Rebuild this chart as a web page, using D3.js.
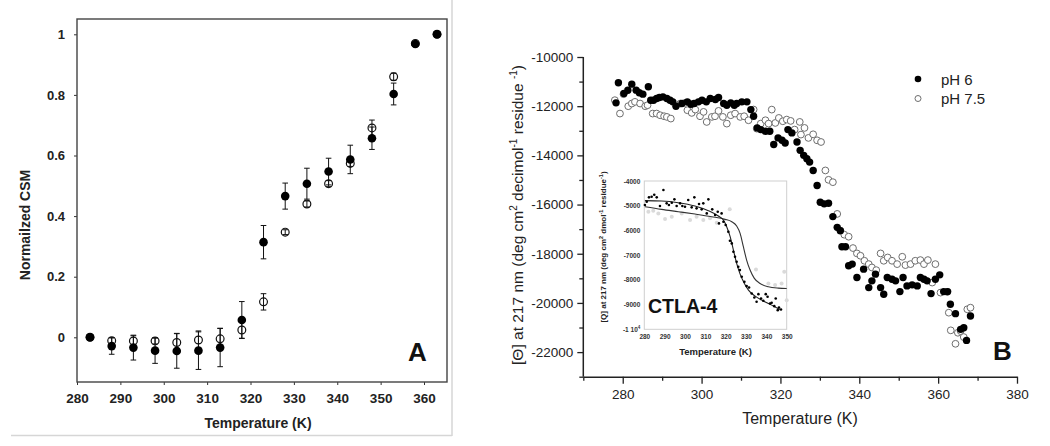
<!DOCTYPE html>
<html><head><meta charset="utf-8">
<script src="https://cdn.jsdelivr.net/npm/d3@7"></script>
<style>
body{margin:0;background:#fff}
svg{display:block}
text{font-family:"Liberation Sans",Arial,Helvetica,sans-serif}
</style>
</head><body>
<svg id="c" width="1050" height="446"></svg>
<script>
// ---------- Panel A data ----------
const tempA = [283,288,293,298,303,308,313,318,323,328,333,338,343,348,353,358,363];
const csmFilled = [0,-0.029,-0.034,-0.044,-0.045,-0.044,-0.034,0.057,0.314,0.466,0.507,0.547,0.587,0.657,0.803,0.968,1.0];
const csmFilledErr = [0,0.027,0.041,0.042,0.057,0.062,0.063,0.061,0.055,0.043,0.051,0.044,0.047,0.037,0.036,0.008,0];
const csmOpen = [0,-0.011,-0.012,-0.012,-0.017,-0.009,-0.005,0.024,0.117,0.347,0.44,0.507,0.574,0.691,0.86,0.97,1.0];
const csmOpenErr = [0,0.01,0.017,0.01,0.03,0.03,0.035,0.027,0.027,0.008,0.01,0.01,0.01,0.026,0.012,0,0];
const aXTicks = [280,290,300,310,320,330,340,350,360];
const aYTicks = [0,0.2,0.4,0.6,0.8,1];

// ---------- Panel B data ----------
const tempPH6 = [278.3,278.9,280.3,281.3,282.3,283.4,284.2,285.1,286.5,287.1,287.8,288.6,289.3,290.2,291.2,292.0,292.7,293.5,295.0,296.4,297.3,298.1,299.2,300.1,301.2,302.2,303.5,304.3,305.6,306.4,307.4,308.3,308.9,310.2,311.5,312.5,313.2,314.1,315.0,316.2,317.3,318.3,319.4,320.4,321.2,321.9,322.9,324.2,325.0,325.9,326.7,327.4,328.3,329.3,330.1,331.1,332.2,333.3,334.4,335.2,335.6,336.5,337.3,338.2,339.4,341.1,342.4,343.2,344.1,345.4,346.2,347.1,348.3,349.2,350.3,351.1,352.1,353.4,354.7,355.5,356.4,357.2,358.2,359.3,360.4,361.4,362.4,363.1,364.4,365.7,366.5,367.2,368.2];
const valPH6 = [-11865,-11048,-11483,-11350,-11103,-11348,-11456,-11511,-11212,-11756,-11756,-11688,-11647,-11620,-11688,-11756,-11824,-12001,-11892,-11824,-11919,-11892,-11824,-11756,-11824,-11688,-11729,-11647,-11892,-11960,-11865,-11960,-11892,-11824,-11824,-12139,-12410,-12884,-12952,-13019,-13019,-13561,-13290,-13388,-13498,-12952,-13087,-13457,-13796,-14000,-14135,-14274,-14613,-15225,-15907,-15972,-15948,-16490,-16927,-17062,-17715,-17715,-18490,-18422,-18968,-18627,-19376,-19103,-18830,-19376,-19647,-18968,-19035,-19103,-19539,-18968,-19307,-19266,-19307,-18968,-19035,-19103,-19621,-19035,-18858,-19539,-19539,-20054,-20437,-21075,-21009,-21523,-20532];
const tempPH75 = [278.0,279.3,280.2,281.4,282.3,283.1,284.4,285.7,286.3,287.6,288.6,289.5,290.5,291.2,292.2,294.6,295.8,296.4,297.5,298.4,299.6,300.5,301.3,302.6,303.4,304.3,305.4,306.4,307.4,308.5,309.8,310.8,311.9,313.2,314.0,315.0,316.2,317.0,317.8,318.7,319.6,320.6,321.6,322.6,323.6,324.9,325.2,326.1,327.1,328.3,329.3,330.3,331.4,332.2,333.3,334.4,335.2,336.2,337.3,338.4,339.4,340.3,341.3,342.4,343.2,344.3,345.4,346.2,347.2,348.3,349.6,350.9,351.7,353.0,354.2,355.5,356.4,357.4,358.5,359.3,360.6,362.3,362.7,363.2,364.4,365.0,365.7,366.5,367.4,368.2];
const valPH75 = [-11756,-12300,-11511,-12001,-11892,-11824,-11892,-12001,-11960,-12300,-12300,-12368,-12409,-12436,-12504,-11892,-11865,-12164,-12273,-12137,-12409,-12232,-12641,-12436,-12409,-12191,-12436,-12709,-12368,-12300,-12436,-12409,-12572,-12137,-12913,-12709,-12572,-12709,-12139,-12681,-12478,-12613,-12545,-12599,-12952,-12640,-13155,-12884,-13290,-13143,-13388,-13456,-14613,-14994,-15090,-16381,-17062,-17225,-17307,-17769,-17987,-18082,-18286,-18422,-18559,-18667,-17987,-18286,-18152,-18286,-18422,-18123,-18462,-18422,-18286,-18258,-18422,-18258,-19172,-18422,-19580,-19552,-20397,-21115,-21662,-21213,-21144,-21389,-20258,-20193];
const bXTicks = [280,300,320,340,360,380];
const bXMinor = [270,290,310,330,350,370];
const bYTicks = [-10000,-12000,-14000,-16000,-18000,-20000,-22000];
const bYMinor = [-11000,-13000,-15000,-17000,-19000,-21000,-23000];
const legendLabels = ["pH 6","pH 7.5"];

// ---------- Inset data ----------
const insTempPH6 = [280.3,281.2,282.3,283.6,284.9,286.1,287.7,289.4,291.0,292.1,293.5,294.8,295.9,297.6,298.7,300.0,301.6,303.3,304.6,305.7,306.9,308.2,309.0,310.7,311.5,313.4,314.8,316.1,316.7,318.0,318.9,320.0,321.3,322.1,323.0,323.8,324.6,325.4,326.2,327.0,327.9,329.2,330.3,331.5,332.8,334.1,335.2,336.1,337.4,338.5,339.7,340.6,341.8,342.6,343.9,344.6,345.6,346.2,347.2];
const insValPH6 = [-4972,-4837,-4662,-4635,-4554,-4662,-5013,-4365,-4905,-4972,-4878,-4743,-5013,-4905,-5013,-5040,-4770,-5067,-4662,-5107,-4932,-5148,-4905,-5310,-4743,-5148,-5377,-5242,-5715,-5310,-5647,-5782,-6052,-6417,-6525,-6862,-7065,-7267,-7470,-7605,-7875,-8077,-8253,-8307,-8550,-8712,-8887,-8577,-8752,-8847,-8577,-8685,-8955,-8928,-9063,-8752,-9225,-9117,-9198];
const insTempPH75 = [282.0,284.4,286.9,290.2,293.5,298.4,302.5,305.7,309.0,312.3,315.6,322.0,334.9,341.0,344.3,347.5,348.8,350.0];
const insValPH75 = [-5242,-5202,-5310,-5539,-5445,-5310,-5580,-5445,-5580,-5512,-5688,-5148,-7578,-8145,-8212,-8145,-7672,-8820];
const fitTempPH6 = [280.3,288.5,296.7,304.9,311.5,316.4,318.9,320.5,322.2,323.8,325.4,327.1,329.2,331.2,334.5,337.7,342.6,346.7];
const fitValPH6 = [-4796,-4810,-4877,-5012,-5201,-5417,-5579,-5849,-6254,-6794,-7334,-7766,-8144,-8414,-8657,-8819,-9022,-9198];
const fitTempPH75 = [280.3,288.5,296.7,304.9,313.1,319.7,323.0,325.4,327.1,328.7,330.3,332.0,334.1,336.9,341.0,345.9,350.0];
const fitValPH75 = [-5039,-5147,-5241,-5336,-5444,-5552,-5646,-5822,-6119,-6659,-7199,-7604,-7941,-8144,-8279,-8333,-8347];
const insXTicks = [280,290,300,310,320,330,340,350];
const insYTicks = [-4000,-5000,-6000,-7000,-8000,-9000,-10000];

const svg = d3.select("#c");
svg.append("rect").attr("width",1050).attr("height",446).attr("fill","#fff");

// separator lines
svg.append("line").attr("x1",452).attr("x2",452).attr("y1",0).attr("y2",436).attr("stroke","#d6d6d6").attr("stroke-width",1.5);
svg.append("line").attr("x1",11).attr("x2",452).attr("y1",435.5).attr("y2",435.5).attr("stroke","#d6d6d6").attr("stroke-width",1.5);

// ================= Panel A =================
const xA = d3.scaleLinear().domain([280,365.3]).range([77,447]);
const yA = d3.scaleLinear().domain([-0.1475,1.0505]).range([382,19]);
const gA = svg.append("g");

const axA = gA.append("g").attr("transform","translate(0,382)")
  .call(d3.axisBottom(xA).tickValues(aXTicks).tickSize(3).tickPadding(8).tickSizeOuter(0));
axA.select(".domain").remove();
axA.selectAll("text").attr("font-size",13.5).attr("font-weight","bold").attr("fill","#222").style("font-family","'Liberation Sans',Arial,sans-serif");
axA.selectAll("line").attr("stroke","#333");
const ayA = gA.append("g").attr("transform","translate(77,0)")
  .call(d3.axisLeft(yA).tickValues(aYTicks).tickSize(3).tickPadding(9).tickSizeOuter(0)
    .tickFormat(d => d===0?"0":(d===1?"1":d.toFixed(1))));
ayA.select(".domain").remove();
ayA.selectAll("text").attr("font-size",13).attr("font-weight","bold").attr("fill","#222").style("font-family","'Liberation Sans',Arial,sans-serif");
ayA.selectAll("line").attr("stroke","#333");

gA.append("rect").attr("x",77).attr("y",19).attr("width",370).attr("height",363)
  .attr("fill","none").attr("stroke","#444").attr("stroke-width",1.4);

const rowsA = tempA.map((t,i)=>({t, f:csmFilled[i], fe:csmFilledErr[i], o:csmOpen[i], oe:csmOpenErr[i]}));
function errBars(g, key, ekey){
  const sel = g.selectAll(null).data(rowsA.filter(d=>d[ekey]>0)).enter().append("g");
  sel.append("line").attr("x1",d=>xA(d.t)).attr("x2",d=>xA(d.t))
    .attr("y1",d=>yA(d[key]-d[ekey])).attr("y2",d=>yA(d[key]+d[ekey])).attr("stroke","#111").attr("stroke-width",1);
  [-1,1].forEach(s=>{
    sel.append("line").attr("x1",d=>xA(d.t)-2.8).attr("x2",d=>xA(d.t)+2.8)
      .attr("y1",d=>yA(d[key]+s*d[ekey])).attr("y2",d=>yA(d[key]+s*d[ekey])).attr("stroke","#111").attr("stroke-width",1);
  });
}
gA.selectAll(null).data(rowsA).enter().append("circle")
  .attr("cx",d=>xA(d.t)).attr("cy",d=>yA(d.o)).attr("r",3.9)
  .attr("fill","#fff").attr("stroke","#111").attr("stroke-width",1.2);
errBars(gA,"o","oe");
errBars(gA,"f","fe");
gA.selectAll(null).data(rowsA).enter().append("circle")
  .attr("cx",d=>xA(d.t)).attr("cy",d=>yA(d.f)).attr("r",4.3).attr("fill","#000");

gA.append("text").attr("x",258).attr("y",427.5).attr("text-anchor","middle")
  .attr("font-size",14).attr("font-weight","bold").attr("fill","#222").text("Temperature (K)");
gA.append("text").attr("transform","translate(29.5,225) rotate(-90)").attr("text-anchor","middle")
  .attr("font-size",14).attr("font-weight","bold").attr("fill","#222").text("Normailzed CSM");
gA.append("text").attr("x",408).attr("y",361).attr("font-size",26).attr("font-weight","bold").attr("fill","#111").text("A");

// ================= Panel B =================
const xB = d3.scaleLinear().domain([270,380]).range([583.3,1017]);
const yB = d3.scaleLinear().domain([-23000,-10000]).range([376.7,57]);
const gB = svg.append("g");

const axB = gB.append("g").attr("transform","translate(0,376.7)")
  .call(d3.axisBottom(xB).tickValues(bXTicks).tickSize(7).tickPadding(6).tickSizeOuter(0).tickFormat(d=>String(d)));
axB.select(".domain").attr("stroke","#222").attr("stroke-width",1.5);
axB.selectAll("line").attr("stroke","#222").attr("stroke-width",1.3);
axB.selectAll("text").attr("font-size",13.5).attr("fill","#222").style("font-family","'Liberation Sans',Arial,sans-serif");
const axBm = gB.append("g").attr("transform","translate(0,376.7)")
  .call(d3.axisBottom(xB).tickValues(bXMinor).tickSize(4).tickFormat(""));
axBm.select(".domain").remove();
axBm.selectAll("line").attr("stroke","#222").attr("stroke-width",1.3);

const ayB = gB.append("g").attr("transform","translate(583.3,0)")
  .call(d3.axisLeft(yB).tickValues(bYTicks).tickSize(6).tickPadding(4).tickSizeOuter(0).tickFormat(d=>String(d)));
ayB.select(".domain").attr("stroke","#222").attr("stroke-width",1.5).attr("d","M0,"+yB(-10000)+"V"+yB(-23000));
ayB.selectAll("line").attr("stroke","#222").attr("stroke-width",1.3);
ayB.selectAll("text").attr("font-size",13.5).attr("fill","#222").style("font-family","'Liberation Sans',Arial,sans-serif");
const ayBm = gB.append("g").attr("transform","translate(583.3,0)")
  .call(d3.axisLeft(yB).tickValues(bYMinor).tickSize(4).tickFormat(""));
ayBm.select(".domain").remove();
ayBm.selectAll("line").attr("stroke","#222").attr("stroke-width",1.3);

const ph6 = tempPH6.map((t,i)=>({t,v:valPH6[i]}));
const ph75 = tempPH75.map((t,i)=>({t,v:valPH75[i]}));
gB.selectAll(null).data(ph75).enter().append("circle")
  .attr("cx",d=>xB(d.t)).attr("cy",d=>yB(d.v)).attr("r",3.4)
  .attr("fill","#fff").attr("stroke","#6e6e6e").attr("stroke-width",1);
gB.selectAll(null).data(ph6).enter().append("circle")
  .attr("cx",d=>xB(d.t)).attr("cy",d=>yB(d.v)).attr("r",3.7).attr("fill","#000");

// legend
const leg = gB.append("g");
leg.append("circle").attr("cx",918).attr("cy",79).attr("r",3.3).attr("fill","#000");
leg.append("circle").attr("cx",918).attr("cy",98.5).attr("r",3).attr("fill","#fff").attr("stroke","#6e6e6e").attr("stroke-width",1);
leg.append("text").attr("x",941).attr("y",84.5).attr("font-size",15).attr("fill","#222").text(legendLabels[0]);
leg.append("text").attr("x",941).attr("y",104).attr("font-size",15).attr("fill","#222").text(legendLabels[1]);

// titles
gB.append("text").attr("x",800).attr("y",424).attr("text-anchor","middle").attr("font-size",16).attr("fill","#222").text("Temperature (K)");
const yt = gB.append("text").attr("transform","translate(523,215) rotate(-90)").attr("text-anchor","middle")
  .attr("font-size",15.5).attr("fill","#222");
yt.append("tspan").text("[\u0398] at 217 nm (deg cm");
yt.append("tspan").attr("dy",-6).attr("font-size",10).text("2");
yt.append("tspan").attr("dy",6).text(" decimol");
yt.append("tspan").attr("dy",-6).attr("font-size",10).text("-1");
yt.append("tspan").attr("dy",6).text(" residue ");
yt.append("tspan").attr("dy",-6).attr("font-size",10).text("-1");
yt.append("tspan").attr("dy",6).text(")");
gB.append("text").attr("x",993).attr("y",360).attr("font-size",26).attr("font-weight","bold").attr("fill","#111").text("B");

// ================= Inset =================
const xI = d3.scaleLinear().domain([280,350]).range([644.3,786.7]);
const yI = d3.scaleLinear().domain([-10000,-4000]).range([329.3,181]);
const gI = svg.append("g");
gI.append("rect").attr("x",644.3).attr("y",181).attr("width",142.4).attr("height",148.3)
  .attr("fill","#fff").attr("stroke","#cfcfcf").attr("stroke-width",1);
const axI = gI.append("g").attr("transform","translate(0,329.3)")
  .call(d3.axisBottom(xI).tickValues(insXTicks).tickSize(0).tickPadding(5).tickFormat(d=>String(d)));
axI.select(".domain").remove();
axI.selectAll("text").attr("font-size",6.5).attr("font-weight","bold").attr("fill","#333").style("font-family","'Liberation Sans',Arial,sans-serif");
const ayI = gI.append("g").attr("transform","translate(644.3,0)")
  .call(d3.axisLeft(yI).tickValues(insYTicks).tickSize(0).tickPadding(4).tickFormat(d=>String(d)));
ayI.select(".domain").remove();
ayI.selectAll("text").attr("font-size",6.5).attr("font-weight","bold").attr("fill","#333").style("font-family","'Liberation Sans',Arial,sans-serif");
ayI.selectAll("text").filter(d=>d===-10000).text(null).each(function(){
  const t = d3.select(this);
  t.append("tspan").text("-1 10");
  t.append("tspan").attr("dy",-3).attr("font-size",4.5).text("4");
});

const iph75 = insTempPH75.map((t,i)=>({t,v:insValPH75[i]}));
const iph6 = insTempPH6.map((t,i)=>({t,v:insValPH6[i]}));
gI.selectAll(null).data(iph75).enter().append("circle")
  .attr("cx",d=>xI(d.t)).attr("cy",d=>yI(d.v)).attr("r",2).attr("fill","#dadada");
const lineI = d3.line().x(d=>xI(d.t)).y(d=>yI(d.v)).curve(d3.curveMonotoneX);
gI.append("path").datum(fitTempPH75.map((t,i)=>({t,v:fitValPH75[i]})))
  .attr("d",lineI).attr("fill","none").attr("stroke","#333").attr("stroke-width",1.1);
gI.append("path").datum(fitTempPH6.map((t,i)=>({t,v:fitValPH6[i]})))
  .attr("d",lineI).attr("fill","none").attr("stroke","#222").attr("stroke-width",1.1);
gI.selectAll(null).data(iph6).enter().append("circle")
  .attr("cx",d=>xI(d.t)).attr("cy",d=>yI(d.v)).attr("r",1.3).attr("fill","#000");

gI.append("text").attr("x",715.5).attr("y",355).attr("text-anchor","middle").attr("font-size",9.5).attr("font-weight","bold").attr("fill","#222").text("Temperature (K)");
const it = gI.append("text").attr("transform","translate(606,247) rotate(-90)").attr("text-anchor","middle")
  .attr("font-size",8).attr("font-weight","bold").attr("fill","#222");
it.append("tspan").text("[Q] at 217 nm (deg cm");
it.append("tspan").attr("dy",-3).attr("font-size",5.5).text("2");
it.append("tspan").attr("dy",3).text(" dmol");
it.append("tspan").attr("dy",-3).attr("font-size",5.5).text("-1");
it.append("tspan").attr("dy",3).text(" residue");
it.append("tspan").attr("dy",-3).attr("font-size",5.5).text("-1");
it.append("tspan").attr("dy",3).text(")");
gI.append("text").attr("x",648).attr("y",313).attr("font-size",19.5).attr("font-weight","bold").attr("fill","#111").text("CTLA-4");
</script>
</body></html>
